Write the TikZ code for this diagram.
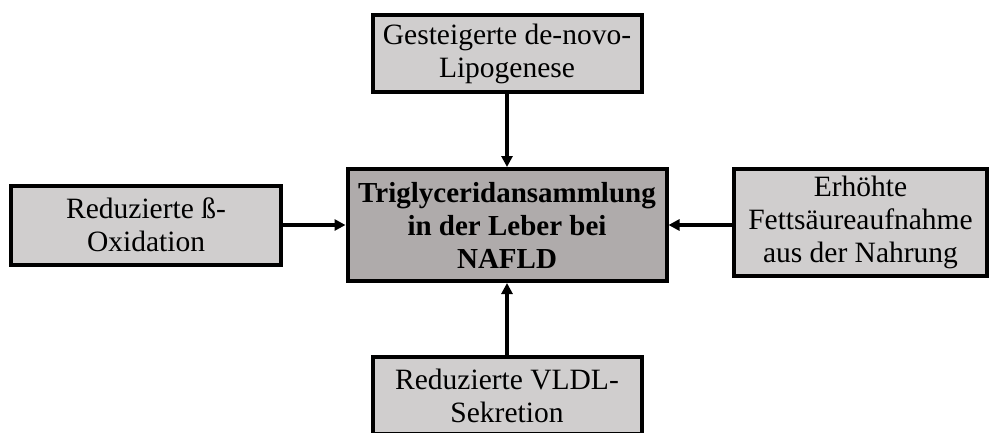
\documentclass[tikz,border=0pt]{standalone}
\usepackage{fontspec}
\setmainfont{Liberation Serif}
\usetikzlibrary{arrows.meta}
\definecolor{sidegray}{RGB}{208,206,206}
\definecolor{centergray}{RGB}{175,171,171}
\begin{document}
\begin{tikzpicture}[x=1pt,y=-1pt,
  sidebox/.style={draw=black,line width=4pt,fill=sidegray,align=center,inner sep=0pt,
    font=\fontsize{29.5}{33}\selectfont},
  centerbox/.style={draw=black,line width=4pt,fill=centergray,align=center,inner sep=0pt,
    font=\fontsize{29}{33}\selectfont\bfseries},
  arr/.style={line width=3.2pt,-{Triangle[length=11pt,width=11pt]}}]
\useasboundingbox (0,0) rectangle (992,432);
\node[sidebox,minimum width=269pt,minimum height=77pt] (top) at (507,53.5) {Gesteigerte de-novo-\\Lipogenese};
\node[centerbox,minimum width=319pt,minimum height=112pt] (center) at (507,225) {Triglyceridansammlung\\in der Leber bei\\NAFLD};
\node[sidebox,minimum width=270pt,minimum height=79pt] (left) at (146,225) {Reduzierte ß-\\Oxidation};
\node[sidebox,minimum width=253pt,minimum height=107pt] (right) at (860.5,222.5) {Erhöhte\\Fettsäureaufnahme\\aus der Nahrung};
\node[sidebox,minimum width=269pt,minimum height=77pt] (bottom) at (507,395.5) {Reduzierte VLDL-\\Sekretion};
\draw[arr] (top) -- (center);
\draw[arr] (left) -- (center);
\draw[arr] (right.west |- center) -- (center);
\draw[arr] (bottom) -- (center);
\end{tikzpicture}
\end{document}
